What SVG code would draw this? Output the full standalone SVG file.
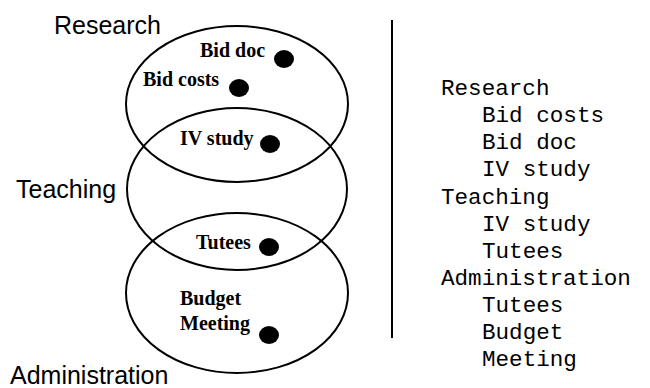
<svg xmlns="http://www.w3.org/2000/svg" width="650" height="388" viewBox="0 0 650 388">
<style>
.set{fill:none;stroke:#000;stroke-width:2}
.lbl{font-family:"Liberation Sans",Arial,sans-serif;font-size:25px;fill:#000}
.item{font-family:"Liberation Serif","Times New Roman",serif;font-size:20px;font-weight:bold;fill:#000}
.dot{fill:#000}
.mono{font-family:"Liberation Mono","Courier New",monospace;font-size:22.6px;fill:#000}
</style>
<rect width="650" height="388" fill="#fff"/>
<g id="research">
<ellipse class="set" cx="237" cy="104" rx="111" ry="78"/>
<text class="lbl" x="54" y="34">Research</text>
</g>
<g id="teaching">
<ellipse class="set" cx="237" cy="189" rx="110" ry="81"/>
<text class="lbl" x="16" y="198">Teaching</text>
</g>
<g id="administration">
<ellipse class="set" cx="237" cy="293" rx="111" ry="80"/>
<text class="lbl" x="10" y="384">Administration</text>
</g>
<g id="bid-doc">
<text class="item" x="200" y="57">Bid doc</text>
<ellipse class="dot" cx="284" cy="59" rx="10" ry="9"/>
</g>
<g id="bid-costs">
<text class="item" x="143" y="86">Bid costs</text>
<ellipse class="dot" cx="239" cy="88" rx="10" ry="9"/>
</g>
<g id="iv-study">
<text class="item" x="180" y="145">IV study</text>
<ellipse class="dot" cx="270" cy="144" rx="10" ry="9"/>
</g>
<g id="tutees">
<text class="item" x="196" y="249">Tutees</text>
<ellipse class="dot" cx="269" cy="247" rx="10" ry="9"/>
</g>
<g id="budget-meeting">
<text class="item" x="180" y="305">Budget</text>
<text class="item" x="180" y="330">Meeting</text>
<ellipse class="dot" cx="269" cy="335" rx="10" ry="9"/>
</g>
<g id="divider">
<line x1="392" y1="20" x2="392" y2="338" stroke="#000" stroke-width="2"/>
</g>
<g id="outline">
<text class="mono" x="441" y="95">Research</text>
<text class="mono" x="482" y="122">Bid costs</text>
<text class="mono" x="482" y="149">Bid doc</text>
<text class="mono" x="482" y="176">IV study</text>
<text class="mono" x="441" y="204">Teaching</text>
<text class="mono" x="482" y="231">IV study</text>
<text class="mono" x="482" y="258">Tutees</text>
<text class="mono" x="441" y="285">Administration</text>
<text class="mono" x="482" y="312">Tutees</text>
<text class="mono" x="482" y="339">Budget</text>
<text class="mono" x="482" y="366">Meeting</text>
</g>
</svg>
